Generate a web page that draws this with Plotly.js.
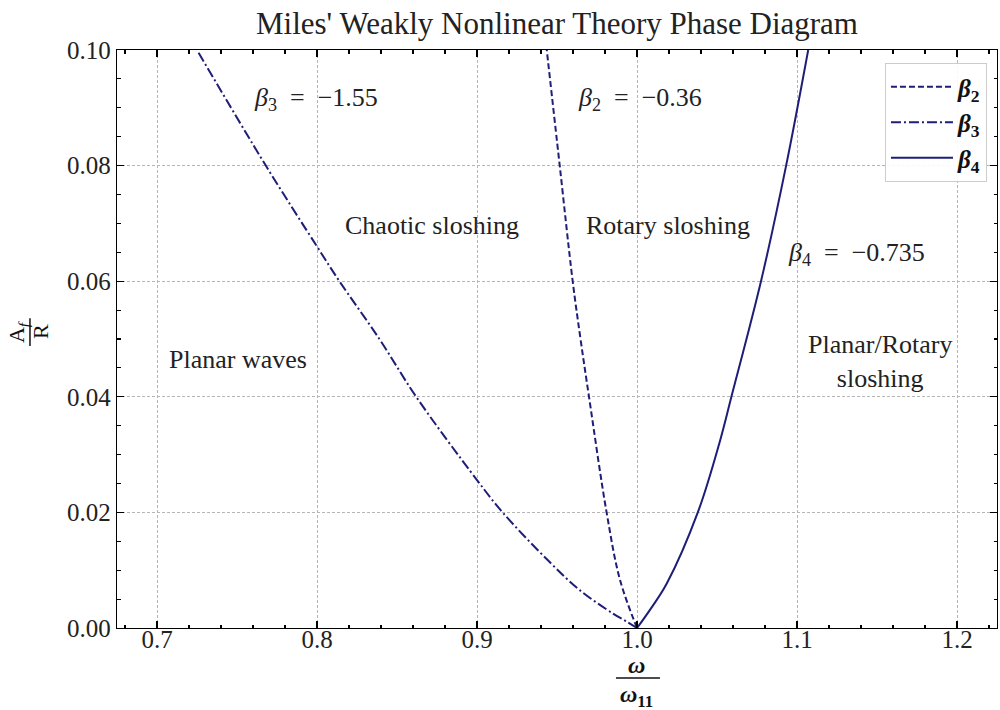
<!DOCTYPE html>
<html>
<head>
<meta charset="utf-8">
<script src="https://cdn.plot.ly/plotly-3.0.1.min.js"></script>
<style>
  html, body { margin: 0; padding: 0; background: #fff; }
  #chart { width: 1000px; height: 710px; }
</style>
</head>
<body>
<div id="chart"></div>
<script>
// Values (omega/omega11 vs A_f/R)
const beta2X = [1.000, 0.9894, 0.981, 0.970, 0.9647, 0.9598, 0.9517, 0.9436];
const beta2Y = [0.000, 0.0083, 0.020, 0.040, 0.050, 0.060, 0.080, 0.100];

const beta3X = [1.000, 0.993, 0.985, 0.964, 0.944, 0.916, 0.900, 0.862, 0.839, 0.814, 0.800, 0.768, 0.725];
const beta3Y = [0.000, 0.0012, 0.0025, 0.0066, 0.0118, 0.020, 0.0256, 0.040, 0.050, 0.060, 0.066, 0.080, 0.100];

const beta4X = [1.000, 1.008, 1.0186, 1.038, 1.052, 1.059, 1.0775, 1.0932, 1.107];
const beta4Y = [0.000, 0.0031, 0.0077, 0.020, 0.0325, 0.040, 0.060, 0.080, 0.100];

const seriesNames = ['<b><i>β</i><sub>2</sub></b>', '<b><i>β</i><sub>3</sub></b>', '<b><i>β</i><sub>4</sub></b>'];
const xTickVals = [0.7, 0.8, 0.9, 1.0, 1.1, 1.2];
const yTickVals = [0.00, 0.02, 0.04, 0.06, 0.08, 0.10];

const lineColor = '#1e1e78';
const serif = '"Liberation Serif", "DejaVu Serif", serif';

const traces = [
  {x: beta2X, y: beta2Y, name: seriesNames[0], mode: 'lines', legendgroup: 'a',
   line: {color: lineColor, width: 2, dash: '6px,3px', shape: 'spline', smoothing: 1}},
  {x: beta3X, y: beta3Y, name: seriesNames[1], mode: 'lines', legendgroup: 'b',
   line: {color: lineColor, width: 2, dash: '10px,3px,2px,3px', shape: 'spline', smoothing: 1}},
  {x: beta4X, y: beta4Y, name: seriesNames[2], mode: 'lines', legendgroup: 'c',
   line: {color: lineColor, width: 2, shape: 'spline', smoothing: 1}}
];

function txt(x, y, text, extra) {
  return Object.assign({x: x, y: y, xref: 'x', yref: 'y', text: text, showarrow: false,
    xanchor: 'center', yanchor: 'middle',
    font: {family: serif, size: 26, color: '#222'}}, extra || {});
}

const annotations = [
  txt(0.7994, 0.0915, '<i>β</i><sub>3</sub>  =  −1.55'),
  txt(1.0019, 0.0915, '<i>β</i><sub>2</sub>  =  −0.36'),
  txt(0.8719, 0.0697, 'Chaotic sloshing'),
  txt(1.0194, 0.0697, 'Rotary sloshing'),
  txt(1.1369, 0.0647, '<i>β</i><sub>4</sub>  =  −0.735'),
  txt(0.7506, 0.0465, 'Planar waves'),
  txt(1.152, 0.0461, 'Planar/Rotary<br>sloshing'),
  // x-axis title as a fraction
  {x: 0.5909, y: -0.064, xref: 'paper', yref: 'paper', text: '<b><i>ω</i></b>', showarrow: false,
   xanchor: 'center', yanchor: 'middle', font: {family: serif, size: 24, color: '#111'}},
  {x: 0.5909, y: -0.117, xref: 'paper', yref: 'paper', text: '<b><i>ω</i><sub>11</sub></b>', showarrow: false,
   xanchor: 'center', yanchor: 'middle', font: {family: serif, size: 24, color: '#111'}},
  // y-axis title as a fraction
  {x: -0.1125, y: 0.512, xref: 'paper', yref: 'paper', text: 'A<sub><i>f</i></sub>', textangle: -90, showarrow: false,
   xanchor: 'center', yanchor: 'middle', font: {family: serif, size: 22, color: '#111'}},
  {x: -0.0875, y: 0.512, xref: 'paper', yref: 'paper', text: 'R', textangle: -90, showarrow: false,
   xanchor: 'center', yanchor: 'middle', font: {family: serif, size: 22, color: '#111'}}
];

const shapes = [
  {type: 'line', xref: 'paper', yref: 'paper', x0: 0.567, x1: 0.617, y0: -0.0865, y1: -0.0865,
   line: {color: '#111', width: 1.5}},
  {type: 'line', xref: 'paper', yref: 'paper', x0: -0.0989, x1: -0.0989, y0: 0.488, y1: 0.536,
   line: {color: '#111', width: 1.5}}
];

const axisCommon = {
  showline: true, linecolor: '#000', linewidth: 1.3, mirror: 'allticks',
  ticks: 'inside', ticklen: 7, tickwidth: 1.1, tickcolor: '#000',
  showgrid: true, gridcolor: '#b5b5b5', gridwidth: 1, griddash: '3px,2px',
  zeroline: false,
  tickfont: {family: serif, size: 25, color: '#222'}
};

const layout = {
  width: 1000, height: 710,
  paper_bgcolor: '#fff', plot_bgcolor: '#fff',
  margin: {l: 117, r: 3, t: 50, b: 82},
  title: {text: "Miles' Weakly Nonlinear Theory Phase Diagram", x: 0.5, xref: 'paper',
          y: 0.968, yref: 'container', yanchor: 'middle',
          font: {family: serif, size: 31, color: '#222'}},
  xaxis: Object.assign({}, axisCommon, {
    range: [0.675, 1.225], tickvals: xTickVals, tickformat: '.1f', ticklabelstandoff: -11,
    minor: {dtick: 0.02, tick0: 0.7, ticks: 'inside', ticklen: 3.5, tickcolor: '#000', showgrid: false}
  }),
  yaxis: Object.assign({}, axisCommon, {
    range: [0, 0.1], tickvals: yTickVals, tickformat: '.2f',
    minor: {dtick: 0.005, tick0: 0, ticks: 'inside', ticklen: 3.5, tickcolor: '#000', showgrid: false}
  }),
  legend: {x: 0.9886, y: 0.9775, xanchor: 'right', yanchor: 'top', itemwidth: 62,
           bgcolor: 'rgba(255,255,255,0.9)', bordercolor: '#cccccc', borderwidth: 1,
           font: {family: serif, size: 25, color: '#111'}, tracegroupgap: 0},
  showlegend: true,
  annotations: annotations,
  shapes: shapes
};

Plotly.newPlot('chart', traces, layout, {displayModeBar: false, staticPlot: true});
</script>
</body>
</html>
